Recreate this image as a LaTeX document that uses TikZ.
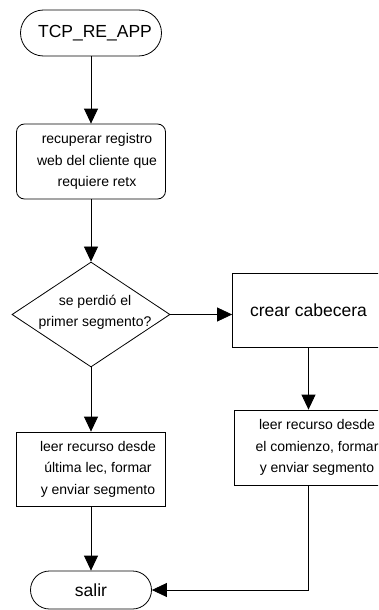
\documentclass[tikz,border=0pt]{standalone}
\usepackage{fontspec}
\setmainfont{Liberation Sans}
\usetikzlibrary{arrows.meta,shapes.geometric}
\begin{document}
\begin{tikzpicture}[x=1pt,y=-1pt,
  line width=0.8pt,
  shapebox/.style={draw, rectangle, inner sep=0pt},
  termbox/.style={draw, rectangle, inner sep=0pt},
  diabox/.style={draw, diamond, inner sep=0pt, aspect=1.5},
  smalltxt/.style={font=\fontsize{14}{21.5}\selectfont, align=center, inner sep=0pt},
  bigtxt/.style={font=\fontsize{17.5}{21}\selectfont, inner sep=0pt},
  arr/.style={-{Triangle[length=15pt,width=14pt]}}]
\useasboundingbox (0,0) rectangle (378,610);
\clip (0,0) rectangle (378,610);
% shapes
\node[termbox, minimum width=141pt, minimum height=46pt, rounded corners=23pt] (start) at (91,33) {};
\node[shapebox, minimum width=149pt, minimum height=75pt, rounded corners=8pt] (b1) at (91,161.5) {};
\node[diabox, minimum width=158pt, minimum height=105pt] (dia) at (91,314.5) {};
\node[shapebox, minimum width=152pt, minimum height=74pt] (crear) at (308.5,310) {};
\node[shapebox, minimum width=149pt, minimum height=74pt] (b2) at (91,469) {};
\node[shapebox, minimum width=148pt, minimum height=75pt] (b3) at (308.5,447.5) {};
\node[termbox, minimum width=121pt, minimum height=38pt, rounded corners=19pt] (salir) at (91,590) {};
% texts
\node[bigtxt] (tstart) at ([xshift=4pt]start.center) {TCP\_RE\_APP};
\node[smalltxt] (tb1) at ([xshift=6pt]b1.center) {recuperar registro\\web del cliente que\\requiere retx};
\node[smalltxt] (tdia) at ([xshift=4pt,yshift=2pt]dia.center) {se perdió el\\primer segmento?};
\node[bigtxt] (tcrear) at ([xshift=0pt]crear.center) {crear cabecera};
\node[smalltxt] (tb2) at ([xshift=7pt]b2.center) {leer recurso desde\\última lec, formar\\y enviar segmento};
\node[smalltxt] (tb3) at ([xshift=8.5pt]b3.center) {leer recurso desde\\el comienzo, formar\\y enviar segmento};
\node[bigtxt] (tsalir) at (salir.center) {salir};
% connectors
\draw[arr] (start) -- (b1);
\draw[arr] (b1) -- (dia);
\draw[arr] (dia.east) -- (dia.east -| crear.west);
\draw[arr] (crear) -- (b3);
\draw[arr] (dia) -- (b2);
\draw[arr] (b2) -- (salir);
\draw[arr] (b3.south) |- (salir.east);
\end{tikzpicture}
\end{document}
